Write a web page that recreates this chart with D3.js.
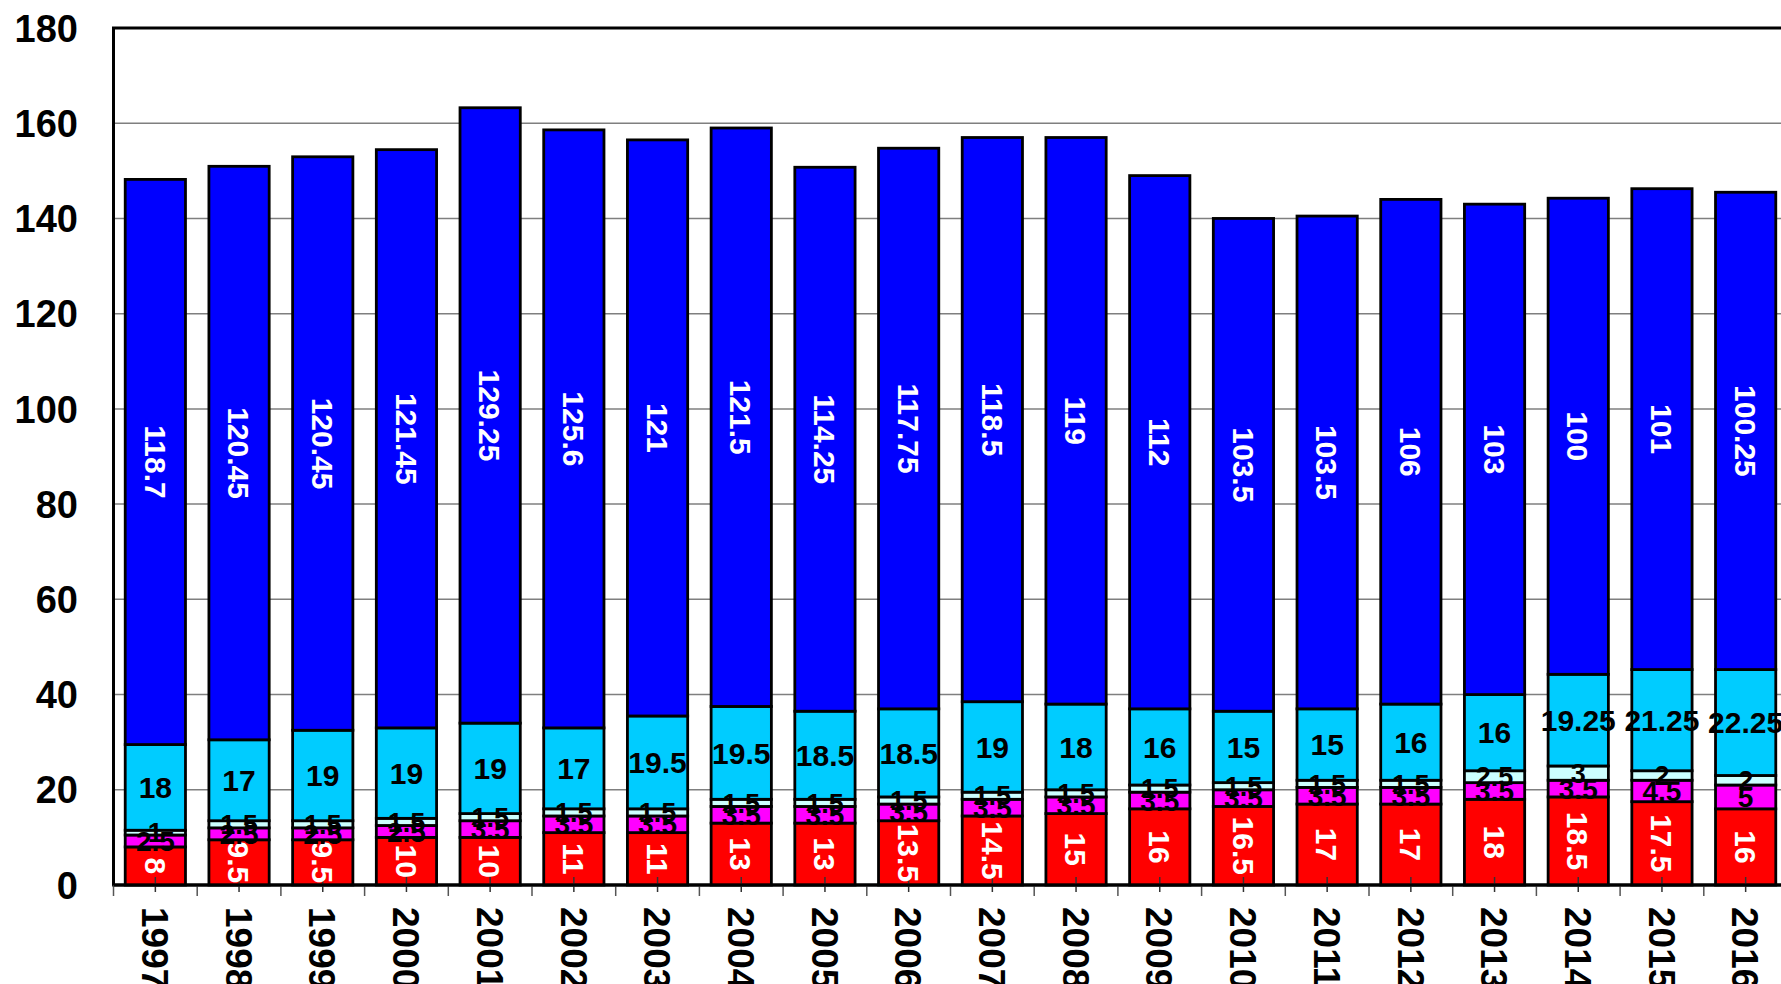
<!DOCTYPE html>
<html>
<head>
<meta charset="utf-8">
<script src="https://cdn.jsdelivr.net/npm/d3@7"></script>
<style>
  html, body { margin: 0; padding: 0; background: #fff; overflow: hidden; }
  svg { display: block; font-family: "Liberation Sans", Arial, sans-serif; font-weight: bold; }
</style>
</head>
<body>
<svg id="chart" width="1781" height="984"></svg>
<script>
// Years on the x axis
const years = ["1997","1998","1999","2000","2001","2002","2003","2004","2005","2006",
               "2007","2008","2009","2010","2011","2012","2013","2014","2015","2016"];

// Stacked series, bottom to top
const seriesRed      = [8, 9.5, 9.5, 10, 10, 11, 11, 13, 13, 13.5, 14.5, 15, 16, 16.5, 17, 17, 18, 18.5, 17.5, 16];
const seriesMagenta  = [2.5, 2.5, 2.5, 2.5, 3.5, 3.5, 3.5, 3.5, 3.5, 3.5, 3.5, 3.5, 3.5, 3.5, 3.5, 3.5, 3.5, 3.5, 4.5, 5];
const seriesPale     = [1, 1.5, 1.5, 1.5, 1.5, 1.5, 1.5, 1.5, 1.5, 1.5, 1.5, 1.5, 1.5, 1.5, 1.5, 1.5, 2.5, 3, 2, 2];
const seriesCyan     = [18, 17, 19, 19, 19, 17, 19.5, 19.5, 18.5, 18.5, 19, 18, 16, 15, 15, 16, 16, 19.25, 21.25, 22.25];
const seriesBlue     = [118.7, 120.45, 120.45, 121.45, 129.25, 125.6, 121, 121.5, 114.25, 117.75,
                        118.5, 119, 112, 103.5, 103.5, 106, 103, 100, 101, 100.25];

// Y axis ticks
const yTicks = [0, 20, 40, 60, 80, 100, 120, 140, 160, 180];

const seriesList = [
  { key: "red",     values: seriesRed,     fill: "#FF0000", text: "#FFFFFF", size: 30, rotate: true },
  { key: "magenta", values: seriesMagenta, fill: "#FF00FF", text: "#000000", size: 28, rotate: false },
  { key: "pale",    values: seriesPale,    fill: "#CCFFFF", text: "#000000", size: 27, rotate: false },
  { key: "cyan",    values: seriesCyan,    fill: "#00CCFF", text: "#000000", size: 30, rotate: false },
  { key: "blue",    values: seriesBlue,    fill: "#0000FF", text: "#FFFFFF", size: 30, rotate: true }
];

const rows = years.map((yr, i) => {
  const r = { year: yr };
  seriesList.forEach(s => r[s.key] = s.values[i]);
  return r;
});

const svg = d3.select("#chart");
const plotLeft = 113.5, plotRight = 1787.5, plotTop = 28, plotBottom = 885;

const x = d3.scaleBand().domain(years).range([plotLeft, plotRight]).paddingInner(0.28).paddingOuter(0.14);
const y = d3.scaleLinear().domain([0, 180]).range([plotBottom, plotTop]);

// Horizontal gridlines
svg.append("g").selectAll("line")
  .data(yTicks.filter(t => t > 0 && t < 180))
  .join("line")
  .attr("x1", plotLeft).attr("x2", plotRight)
  .attr("y1", d => y(d)).attr("y2", d => y(d))
  .attr("stroke", "#7f7f7f").attr("stroke-width", 1.5);

// Plot frame
svg.append("rect")
  .attr("x", plotLeft).attr("y", plotTop)
  .attr("width", plotRight - plotLeft).attr("height", plotBottom - plotTop)
  .attr("fill", "none").attr("stroke", "#000").attr("stroke-width", 3);

// Y axis labels
svg.append("g").selectAll("text")
  .data(yTicks)
  .join("text")
  .attr("x", 78).attr("y", d => y(d))
  .attr("dy", "0.36em")
  .attr("text-anchor", "end")
  .attr("font-size", 38)
  .attr("fill", "#000")
  .text(d => d);

// Stacked bars
const stack = d3.stack().keys(seriesList.map(s => s.key));
const layers = stack(rows);

const barG = svg.append("g");
layers.forEach((layer, li) => {
  const s = seriesList[li];
  barG.append("g").selectAll("rect")
    .data(layer)
    .join("rect")
    .attr("x", d => x(d.data.year))
    .attr("width", x.bandwidth())
    .attr("y", d => y(d[1]))
    .attr("height", d => y(d[0]) - y(d[1]))
    .attr("fill", s.fill)
    .attr("stroke", "#000")
    .attr("stroke-width", 2.8);
});

// X axis ticks: category boundaries and centers
const tickG = svg.append("g");
tickG.selectAll("line.b")
  .data(years.concat(["end"]))
  .join("line")
  .attr("class", "b")
  .attr("x1", (d, i) => plotLeft + i * x.step())
  .attr("x2", (d, i) => plotLeft + i * x.step())
  .attr("y1", plotBottom).attr("y2", plotBottom + 11)
  .attr("stroke", "#555").attr("stroke-width", 1.5);
tickG.selectAll("line.c")
  .data(years)
  .join("line")
  .attr("class", "c")
  .attr("x1", d => x(d) + x.bandwidth() / 2)
  .attr("x2", d => x(d) + x.bandwidth() / 2)
  .attr("y1", plotBottom - 8).attr("y2", plotBottom + 7)
  .attr("stroke", "#333").attr("stroke-width", 1.5);

// Bottom axis line on top of bars
svg.append("line")
  .attr("x1", plotLeft).attr("x2", plotRight)
  .attr("y1", plotBottom).attr("y2", plotBottom)
  .attr("stroke", "#000").attr("stroke-width", 3);

// Value labels
const labelG = svg.append("g");
layers.forEach((layer, li) => {
  const s = seriesList[li];
  labelG.append("g").selectAll("text")
    .data(layer)
    .join("text")
    .attr("transform", d => {
      const cx = x(d.data.year) + x.bandwidth() / 2;
      const cy = y((d[0] + d[1]) / 2);
      return s.rotate ? `translate(${cx},${cy}) rotate(90)` : `translate(${cx},${cy})`;
    })
    .attr("text-anchor", "middle")
    .attr("dy", "0.36em")
    .attr("font-size", s.size)
    .attr("fill", s.text)
    .text(d => d.data[s.key]);
});

// Year labels, rotated
svg.append("g").selectAll("text")
  .data(years)
  .join("text")
  .attr("transform", d => `translate(${x(d) + x.bandwidth() / 2},${plotBottom + 22}) rotate(90)`)
  .attr("text-anchor", "start")
  .attr("dy", "0.36em")
  .attr("font-size", 37)
  .attr("fill", "#000")
  .text(d => d);
</script>
</body>
</html>
